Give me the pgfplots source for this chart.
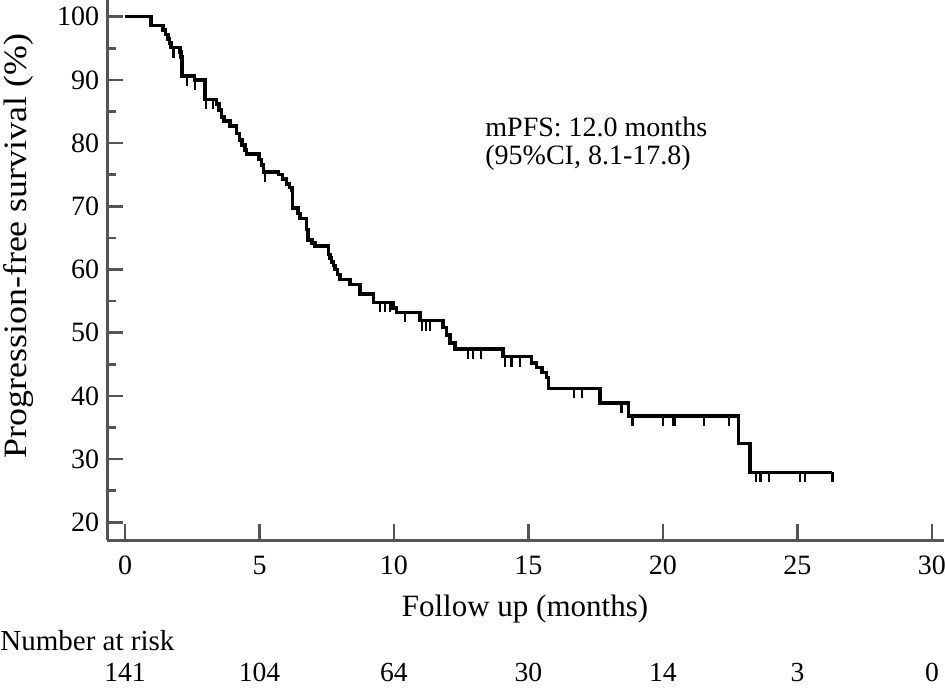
\documentclass[border=0pt]{standalone}
\usepackage{fontspec}
\setmainfont{Liberation Serif}
\usepackage{pgfplots}
\usepackage{graphicx}
\pgfplotsset{compat=1.18}
\definecolor{axgray}{RGB}{85,85,85}
\pgfdeclareplotmark{cens}{\pgfpathmoveto{\pgfpointorigin}\pgfpathlineto{\pgfpoint{0pt}{-5pt}}\pgfusepathqstroke}
\begin{document}
\begin{tikzpicture}
\begin{axis}[
  scale only axis, width=418.5pt, height=270pt,
  xmin=-0.67, xmax=30.45, ymin=17.2, ymax=102.64,
  axis lines=left, axis line style={-, axgray, line width=1.5pt},
  tick align=inside, tick style={axgray, line width=1.3pt},
  major tick length=8pt, minor tick length=4.5pt,
  xtick={0,5,...,30}, ytick={20,30,...,100}, minor ytick={25,35,...,95},
  tick label style={font=\fontsize{14}{16}\selectfont, black},
  xticklabel style={anchor=base, yshift=-17pt},
  yticklabel style={anchor=east, inner xsep=0pt, xshift=-3.75pt},
  /pgf/number format/assume math mode=true,
  clip=false,
]
\addplot[const plot, black, line width=1.75pt, line join=miter] coordinates {
(0,100) (0.96,98.6) (1.42,97.9) (1.51,97.2) (1.59,96.5) (1.65,95.8) (1.71,95.1)
(2.04,94.4) (2.08,93.6) (2.11,90.6) (2.58,90.0) (2.97,86.9) (3.41,86.2) (3.50,85.2)
(3.59,84.1) (3.68,83.5) (3.90,82.7) (4.15,81.5) (4.25,80.5) (4.34,79.7) (4.46,78.9)
(4.52,78.3) (4.99,77.4) (5.08,76.5) (5.14,75.4) (5.70,75.0) (5.86,74.3) (6.01,73.5)
(6.12,73.0) (6.20,72.6) (6.23,69.7) (6.44,68.9) (6.50,68.1) (6.75,66.3) (6.81,64.7)
(6.95,64.2) (7.06,63.7) (7.56,62.4) (7.62,61.8) (7.68,61.2) (7.75,60.6) (7.81,60.0)
(7.90,59.2) (7.99,58.4) (8.36,57.6) (8.74,56.1) (9.23,54.8) (9.97,53.9) (10.10,53.2)
(10.97,51.9) (11.83,50.8) (11.95,49.6) (12.08,48.4) (12.27,47.4) (14.06,46.2)
(15.12,45.2) (15.30,44.5) (15.50,43.7) (15.67,42.9) (15.74,41.2) (17.66,38.9)
(18.71,36.8) (22.80,32.5) (23.23,27.9) (26.30,27.9)
};
\addplot[only marks, mark=cens, mark options={black, line width=1.1pt}] coordinates {
(1.80,95.1) (2.29,90.6) (2.60,90.0) (3.01,86.9) (3.28,86.9) (5.20,75.4)
(9.48,54.8) (9.67,54.8) (9.85,54.8) (10.41,53.2) (11.03,51.9) (11.19,51.9) (11.34,51.9)
(12.76,47.4) (12.95,47.4) (13.23,47.4) (14.13,46.2) (14.37,46.2) (14.68,46.2)
(16.69,41.2) (16.98,41.2) (18.46,38.9) (18.87,36.8) (20.00,36.8) (20.36,36.8)
(20.46,36.8) (21.54,36.8) (22.46,36.8) (23.45,27.9) (23.63,27.9) (23.94,27.9)
(25.09,27.9) (25.28,27.9) (26.30,27.9)
};
\node[anchor=base, yshift=-70.5pt, font=\fontsize{13.8}{16}\selectfont] at (axis cs:0,17.2) {141};
\node[anchor=base, yshift=-70.5pt, font=\fontsize{13.8}{16}\selectfont] at (axis cs:5,17.2) {104};
\node[anchor=base, yshift=-70.5pt, font=\fontsize{13.8}{16}\selectfont] at (axis cs:10,17.2) {64};
\node[anchor=base, yshift=-70.5pt, font=\fontsize{13.8}{16}\selectfont] at (axis cs:15,17.2) {30};
\node[anchor=base, yshift=-70.5pt, font=\fontsize{13.8}{16}\selectfont] at (axis cs:20,17.2) {14};
\node[anchor=base, yshift=-70.5pt, font=\fontsize{13.8}{16}\selectfont] at (axis cs:25,17.2) {3};
\node[anchor=base, yshift=-70.5pt, font=\fontsize{13.8}{16}\selectfont] at (axis cs:30,17.2) {0};
\end{axis}
\node[anchor=base, font=\fontsize{15.5}{18}\selectfont] at (209pt,-38pt) {Follow up (months)};
\node[anchor=base, rotate=90, font=\fontsize{16.3}{18}\selectfont] at (-40.25pt,147pt) {\scalebox{1.1}[1]{Progression-free survival (\%)}};
\node[anchor=base west, inner sep=0pt, font=\fontsize{14.5}{16}\selectfont] at (-53.5pt,-55pt) {Number at risk};
\node[anchor=base west, inner sep=0pt, font=\fontsize{14}{14}\selectfont] at (189pt,201.7pt) {mPFS: 12.0 months};
\node[anchor=base west, inner sep=0pt, font=\fontsize{14}{14}\selectfont] at (189pt,188pt) {(95\%CI, 8.1-17.8)};
\pgfresetboundingbox
\path[use as bounding box] (-53.5pt,-73.5pt) rectangle (419pt,270pt);
\end{tikzpicture}
\end{document}
